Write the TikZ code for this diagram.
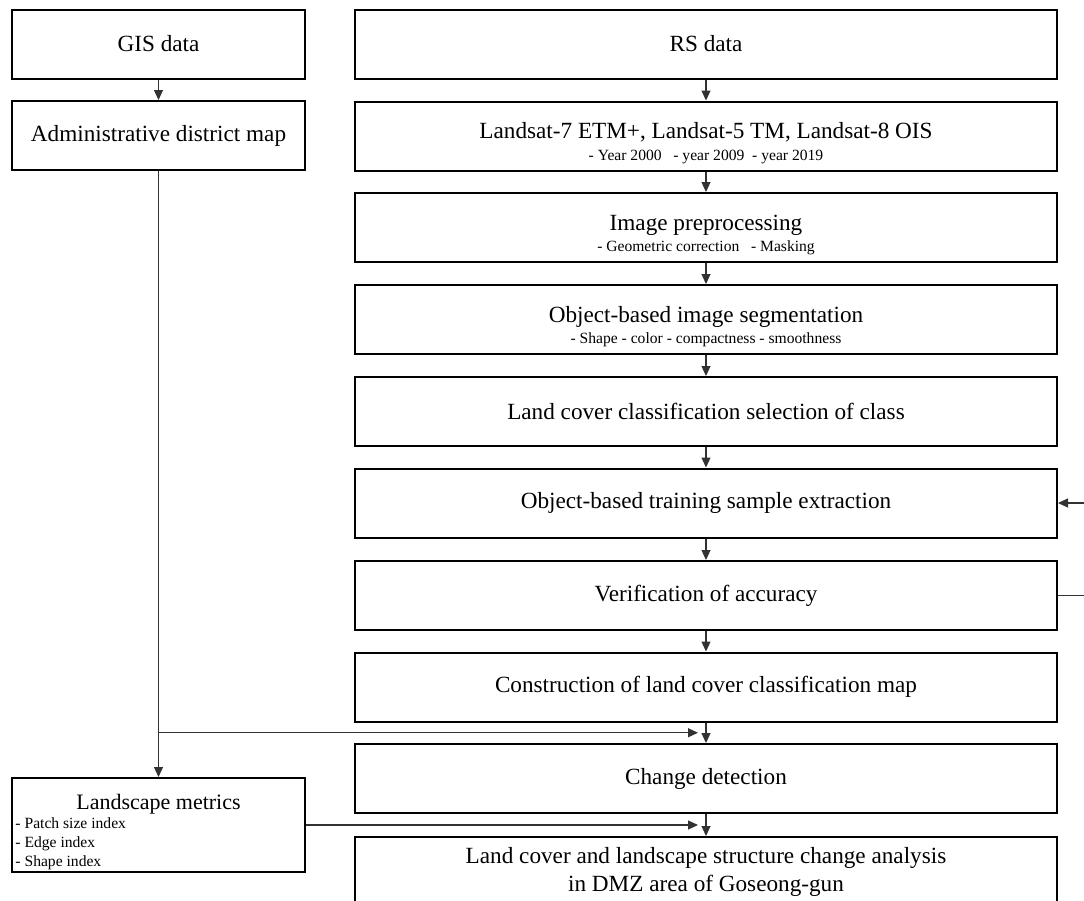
\documentclass[tikz,border=0pt]{standalone}
\usepackage{fontspec}
\setmainfont{Liberation Serif}
\usetikzlibrary{arrows.meta,calc}
\definecolor{linegray}{RGB}{50,50,50}
\newcommand{\subtxt}{\fontsize{7.8}{9.5}\selectfont}

\begin{document}
\begin{tikzpicture}[
      x=0.5pt, y=-0.5pt,
      box/.style={
          draw=black, line width=1pt, fill=white,
          minimum width=351pt, minimum height=34.5pt, inner sep=0pt,
          align=center, font=\fontsize{11.6}{14}\selectfont
      },
      sidebox/.style={
          box, minimum width=146.5pt
      },
      metricbox/.style={
          draw=black, line width=1pt, fill=white,
          minimum width=146.5pt, minimum height=47pt, inner sep=0pt
      },
      line/.style={
          draw=linegray, line width=0.6pt, -{Triangle[length=5pt,width=4.5pt]}
      }
  ]
      \useasboundingbox (0,0) rectangle (1084,901);
      \clip (0,0) rectangle (1084,901);

      % GIS
      \node[sidebox] (gis) at (158.5,44) {GIS data};
      \node[sidebox] (admin) at (158.5,135.5) {Administrative district map};
      \node[metricbox] (metrics) at (158.5,825) {\parbox{143pt}{%
          \centering\fontsize{11}{13}\selectfont\rule{0pt}{14.8pt}Landscape metrics\par
          \raggedright\subtxt - Patch size index\\
          - Edge index\\
          - Shape index\par}};

      % RS
      \node[box] (rs) at (706,44) {RS data};
      \node[box] (landsat) at (706,136) {
          \rule{0pt}{15pt}Landsat-7 ETM+, Landsat-5 TM, Landsat-8 OIS\\[-3pt]
          {\subtxt - Year 2000\ \ \ - year 2009\ \ - year 2019}
      };
      \node[box] (prep) at (706,227.5) {
          \rule{0pt}{15pt}Image preprocessing\\[-3.5pt]
          {\subtxt - Geometric correction\ \ \ - Masking}
      };
      \node[box] (seg) at (706,319.5) {
          \rule{0pt}{15pt}Object-based image segmentation\\[-3.5pt]
          {\subtxt - Shape - color - compactness - smoothness}
      };
      \node[box] (lcc) at (706,411.5) {Land cover classification selection of class};
      \node[box] (train) at (706,503) {Object-based training sample extraction};
      \node[box] (verif) at (706,595.5) {Verification of accuracy};
      \node[box] (lcmap) at (706,687) {Construction of land cover classification map};
      \node[box] (change) at (706,778.5) {Change detection};
      \node[box] (result) at (706,871.5) {
          Land cover and landscape structure change analysis\\
          in DMZ area of Goseong-gun
      };

      % Liaisons
      \coordinate (j1) at ($(lcmap.south)!0.5!(change.north)$);
      \coordinate (j2) at ($(change.south)!0.5!(result.north)$);

      \draw[line] (gis.south) -- (admin.north);
      \draw[line] (admin.south) -- (metrics.north);
      \draw[line] (admin.south |- j1) -- ([xshift=-4]j1);
      \draw[line] (metrics.east) -- ([xshift=-4]j2);

      \draw[line] (rs.south) -- (landsat.north);
      \draw[line] (landsat.south) -- (prep.north);
      \draw[line] (prep.south) -- (seg.north);
      \draw[line] (seg.south) -- (lcc.north);
      \draw[line] (lcc.south) -- (train.north);
      \draw[line] (train.south) -- (verif.north);
      \draw[line] (verif.south) -- (lcmap.north);
      \draw[line] (lcmap.south) -- (change.north);
      \draw[line] (change.south) -- (result.north);
      \draw[line] (verif.east) -- ++(40,0) |- (train.east);
  \end{tikzpicture}
\end{document}
